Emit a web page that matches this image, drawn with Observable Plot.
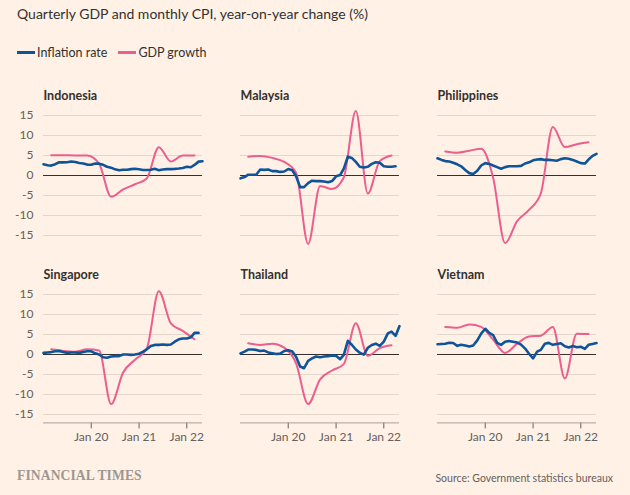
<!DOCTYPE html>
<html><head><meta charset="utf-8">
<script src="https://cdn.jsdelivr.net/npm/d3@7"></script>
<script src="https://cdn.jsdelivr.net/npm/@observablehq/plot@0.6"></script>
<style>
body{margin:0;background:#fff1e5;}
#wrap{position:relative;width:630px;height:495px;overflow:hidden;background:#fff1e5;font-family:Lato, "Open Sans", sans-serif;}
#title{position:absolute;left:17px;top:5px;font-size:14px;color:#33302e;white-space:nowrap}
#legend{position:absolute;left:17px;top:45px;font-size:12.5px;color:#33302e;white-space:nowrap}
#legend .item{display:inline-block;margin-right:11px}
.sw{display:inline-block;width:18px;height:3px;vertical-align:middle;margin-right:2px;position:relative;top:-1px}
#chart{position:absolute;left:0;top:70px}
#ft{position:absolute;left:17px;top:468px;font-family:"Liberation Serif", serif;font-size:13.6px;color:#9e9791;letter-spacing:0.1px;font-weight:600}
#src{position:absolute;right:17px;top:472px;font-size:10.5px;color:#66605c}
</style></head>
<body><div id="wrap">
<div id="title">Quarterly GDP and monthly CPI, year-on-year change (%)</div>
<div id="legend"><span class="item"><span class="sw" style="background:#0f5499"></span>Inflation rate</span><span class="item"><span class="sw" style="background:#eb5e8d"></span>GDP growth</span></div>
<div id="chart"></div>
<div id="ft">FINANCIAL TIMES</div>
<div id="src">Source: Government statistics bureaux</div>
</div>
<script>
const countries = ["Indonesia", "Malaysia", "Philippines", "Singapore", "Thailand", "Vietnam"];

// Monthly CPI, y/y %, from Jan 2019
const cpiIndonesia = [2.82,2.57,2.48,2.83,3.32,3.28,3.32,3.49,3.39,3.13,3.00,2.72, 2.68,2.98,2.96,2.67,2.19,1.96,1.54,1.32,1.42,1.44,1.59,1.68, 1.55,1.38,1.37,1.42,1.68,1.33,1.52,1.59,1.60,1.66,1.75,1.87, 2.18,2.06,2.64,3.47,3.55];
const cpiMalaysia = [-0.7,-0.4,0.2,0.2,0.2,1.5,1.4,1.5,1.1,1.1,0.9,1.0, 1.6,1.3,-0.2,-2.9,-2.9,-1.9,-1.3,-1.4,-1.4,-1.5,-1.7,-1.4, -0.2,0.1,1.7,4.7,4.4,3.4,2.2,2.0,2.2,2.9,3.3,3.2, 2.3,2.2,2.2,2.3];
const cpiPhilippines = [4.3,3.9,3.6,3.5,3.2,2.8,2.3,1.4,0.6,0.4,1.2,2.5, 3.1,2.9,2.5,2.1,1.7,2.1,2.3,2.3,2.3,2.4,3.0,3.3, 3.8,4.0,4.1,3.9,3.9,3.8,3.7,4.1,4.3,4.2,3.9,3.5, 3.1,3.0,4.0,4.9,5.4];
const cpiSingapore = [0.4,0.5,0.6,0.8,0.9,0.6,0.4,0.5,0.5,0.4,0.6,0.8, 0.8,0.3,0.0,-0.7,-0.8,-0.5,-0.4,-0.4,0.0,0.0,-0.1,0.0, 0.2,0.7,1.3,2.1,2.4,2.4,2.5,2.4,2.5,3.2,3.8,4.0, 4.0,4.3,5.4,5.4];
const cpiThailand = [0.27,0.73,1.24,1.23,1.15,0.87,0.98,0.52,0.32,0.11,0.21,0.87, 1.05,0.74,-0.54,-2.99,-3.44,-1.57,-0.98,-0.50,-0.70,-0.50,-0.41,-0.27, -0.34,-1.17,-0.08,3.41,2.44,1.25,0.45,-0.02,1.68,2.38,2.71,2.17, 3.23,5.28,5.73,4.65,7.10];
const cpiVietnam = [2.56,2.64,2.70,2.93,2.88,2.16,2.44,2.26,1.98,2.24,3.52,5.23, 6.43,5.40,4.87,2.93,2.40,3.17,3.39,3.18,2.98,2.47,1.48,0.19, -0.97,0.70,1.16,2.70,2.90,2.41,2.64,2.82,2.06,1.77,2.10,1.81, 1.94,1.42,2.41,2.64,2.86];

// Quarterly GDP, y/y %, Q1 2019 - Q1 2022
const gdpIndonesia = [5.07,5.05,5.02,4.97,2.97,-5.32,-3.49,-2.19,-0.74,7.07,3.51,5.02,5.01];
const gdpMalaysia = [4.7,4.9,4.4,3.4,0.7,-17.1,-2.6,-3.4,-0.5,16.1,-4.5,3.6,5.0];
const gdpPhilippines = [6.0,5.7,6.2,6.7,-0.5,-16.9,-11.4,-8.6,-4.5,12.1,7.1,7.8,8.3];
const gdpSingapore = [1.3,0.9,0.7,1.3,1.0,-12.4,-4.5,-1.3,1.5,15.8,7.8,5.9,3.8];
const gdpThailand = [2.8,2.4,2.7,1.7,-2.2,-12.4,-6.2,-4.0,-2.4,7.8,-0.3,1.6,2.3];
const gdpVietnam = [6.9,6.7,7.5,6.9,3.7,0.4,2.7,4.5,4.7,6.9,-6.0,5.2,5.1];

const xTickLabels = ["Jan 20", "Jan 21", "Jan 22"];
const yTicks = [-15, -10, -5, 0, 5, 10, 15];

const cpiSeries = [cpiIndonesia, cpiMalaysia, cpiPhilippines, cpiSingapore, cpiThailand, cpiVietnam];
const gdpSeries = [gdpIndonesia, gdpMalaysia, gdpPhilippines, gdpSingapore, gdpThailand, gdpVietnam];

const monthDate = i => new Date(Date.UTC(2019, i, 1));
const quarterDate = i => new Date(Date.UTC(2019, 2 + 3 * i, 1));

const cpi = [], gdp = [];
countries.forEach((c, k) => {
  cpiSeries[k].forEach((v, i) => cpi.push({country: c, col: k % 3, row: Math.floor(k / 3), date: monthDate(i), value: v}));
  gdpSeries[k].forEach((v, i) => gdp.push({country: c, col: k % 3, row: Math.floor(k / 3), date: quarterDate(i), value: v}));
});
const panels = countries.map((c, k) => ({country: c, col: k % 3, row: Math.floor(k / 3)}));
const xTicks = xTickLabels.map(s => new Date(Date.UTC(2000 + +s.slice(4), 0, 1)));
const labelOf = new Map(xTicks.map((d, i) => [+d, xTickLabels[i]]));
const yMin = -17.1, yMax = 16.1;

const chart = Plot.plot({
  width: 630, height: 390,
  marginTop: 40.6, marginBottom: 37.6, marginLeft: 43, marginRight: 34,
  style: {background: "transparent", fontFamily: "Lato, 'Open Sans', sans-serif", fontSize: "12px", color: "#66605c"},
  fx: {domain: [0, 1, 2], axis: null, paddingInner: 0.193, paddingOuter: 0, round: false},
  fy: {domain: [0, 1], axis: null, paddingInner: 0.258, paddingOuter: 0, round: false},
  x: {type: "utc", domain: [monthDate(0), monthDate(40)], ticks: xTicks, tickFormat: d => labelOf.get(+d), tickSize: 6, tickPadding: 4, label: null},
  y: {domain: [yMin, yMax], ticks: yTicks, tickSize: 0, tickPadding: 10, tickFormat: d => String(d), label: null},
  marks: [
    Plot.ruleY(yTicks.filter(t => t !== 0), {stroke: "#e3d6cb", strokeWidth: 1}),
    Plot.ruleY(panels.filter(p => p.row === 1), {fx: "col", fy: "row", y: () => yMin, stroke: "#a8a09a", strokeWidth: 1}),
    Plot.ruleY([0], {stroke: "#33302e", strokeWidth: 1}),
    Plot.line(gdp, {x: "date", y: "value", fx: "col", fy: "row", z: "country", stroke: "#eb5e8d", strokeWidth: 2, curve: "monotone-x"}),
    Plot.line(cpi, {x: "date", y: "value", fx: "col", fy: "row", z: "country", stroke: "#0f5499", strokeWidth: 2.6}),
    Plot.text(panels, {fx: "col", fy: "row", text: "country", frameAnchor: "top-left", dy: -15.5, textAnchor: "start", lineAnchor: "middle", fontWeight: 700, fontSize: 12.5, fill: "#33302e"})
  ]
});
document.getElementById("chart").appendChild(chart);
</script>
</body></html>
